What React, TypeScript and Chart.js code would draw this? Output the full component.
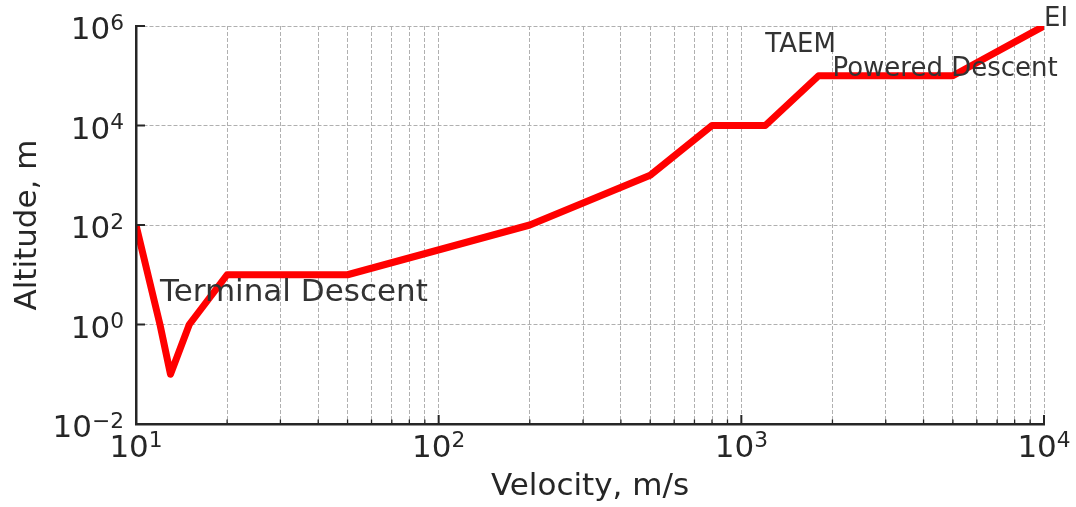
import React, { useEffect, useRef } from 'react';
import { Chart, registerables } from 'chart.js';

Chart.register(...registerables);

// ---- data ----
const velocity = [10, 12, 13, 15, 20, 50, 200, 500, 800, 1200, 1800, 5000, 10000];
const altitude = [100, 1, 0.1, 1, 10, 10, 100, 1000, 10000, 10000, 100000, 100000, 1000000];

const xTickValues = [
  10, 20, 30, 40, 50, 60, 70, 80, 90,
  100, 200, 300, 400, 500, 600, 700, 800, 900,
  1000, 2000, 3000, 4000, 5000, 6000, 7000, 8000, 9000,
  10000,
];
const xMajorValues = [10, 100, 1000, 10000];
const yTickValues = [0.01, 1, 100, 10000, 1000000];

const phaseLabels = ['Terminal Descent', 'TAEM', 'Powered Descent', 'EI'];
const phaseVelocity = [12, 1200, 2000, 10000];
const phaseAltitude = [3, 300000, 100000, 1000000];

// ---- styles ----
const FONT = '"DejaVu Sans", "Liberation Sans", sans-serif';
const phaseFontSize = [31, 26, 26, 26];
const TEXT = '#262626';
const BASE_SIZE = 31;
const EXP_SIZE = 21.7;

const expOf = (v: number) => {
  const e = Math.round(Math.log10(v));
  return e < 0 ? '\u2212' + String(-e) : String(e);
};

function drawPow(ctx: CanvasRenderingContext2D, v: number, anchorX: number, baseline: number, align: 'center' | 'right') {
  const exp = expOf(v);
  ctx.font = `${BASE_SIZE}px ${FONT}`;
  const wBase = ctx.measureText('10').width;
  ctx.font = `${EXP_SIZE}px ${FONT}`;
  const wExp = ctx.measureText(exp).width;
  const total = wBase + wExp;
  const x0 = align === 'center' ? anchorX - total / 2 : anchorX - total;
  ctx.textAlign = 'left';
  ctx.textBaseline = 'alphabetic';
  ctx.font = `${BASE_SIZE}px ${FONT}`;
  ctx.fillText('10', x0, baseline);
  ctx.font = `${EXP_SIZE}px ${FONT}`;
  ctx.fillText(exp, x0 + wBase, baseline - 9.5);
}

const decorPlugin = {
  id: 'decor',
  afterDraw(chart: any) {
    const { ctx, chartArea, scales } = chart;
    const x = scales.x;
    const y = scales.y;
    ctx.save();
    // inward tick marks
    ctx.strokeStyle = TEXT;
    xTickValues.forEach((v) => {
      const major = xMajorValues.includes(v);
      const px = x.getPixelForValue(v);
      ctx.lineWidth = major ? 2 : 1.3;
      ctx.beginPath();
      ctx.moveTo(px, chartArea.bottom);
      ctx.lineTo(px, chartArea.bottom - (major ? 9 : 4.5));
      ctx.stroke();
    });
    yTickValues.forEach((v) => {
      const py = y.getPixelForValue(v);
      ctx.lineWidth = 2;
      ctx.beginPath();
      ctx.moveTo(chartArea.left, py);
      ctx.lineTo(chartArea.left + 9, py);
      ctx.stroke();
    });
    // tick labels (10 with raised exponent)
    ctx.fillStyle = TEXT;
    xMajorValues.forEach((v) => {
      drawPow(ctx, v, x.getPixelForValue(v), chartArea.bottom + 32.7, 'center');
    });
    yTickValues.forEach((v) => {
      drawPow(ctx, v, chartArea.left - 12, y.getPixelForValue(v) + 13, 'right');
    });
    // phase annotations
    ctx.fillStyle = '#333333';
    ctx.textAlign = 'left';
    ctx.textBaseline = 'alphabetic';
    phaseLabels.forEach((t, i) => {
      ctx.font = `${phaseFontSize[i]}px ${FONT}`;
      ctx.fillText(t, x.getPixelForValue(phaseVelocity[i]), y.getPixelForValue(phaseAltitude[i]));
    });
    ctx.restore();
  },
};

export default function App() {
  const ref = useRef<HTMLCanvasElement>(null);
  useEffect(() => {
    const chart = new Chart(ref.current as HTMLCanvasElement, {
      type: 'line',
      data: {
        datasets: [
          {
            data: velocity.map((v, i) => ({ x: v, y: altitude[i] })),
            borderColor: '#ff0000',
            backgroundColor: '#ff0000',
            borderWidth: 7,
            pointRadius: 0,
            tension: 0,
            borderJoinStyle: 'round',
            borderCapStyle: 'butt',
            clip: 0,
          } as any,
        ],
      },
      options: {
        animation: false,
        responsive: true,
        maintainAspectRatio: false,
        devicePixelRatio: 1,
        layout: { padding: { left: 0, top: 26, right: 32, bottom: 0 } },
        plugins: { legend: { display: false }, tooltip: { enabled: false } },
        scales: {
          x: {
            type: 'logarithmic',
            min: 10,
            max: 10000,
            afterBuildTicks: (s: any) => {
              s.ticks = xTickValues.map((v) => ({ value: v, major: false }));
            },
            afterFit: (s: any) => {
              s.height = 83;
              s.paddingLeft = 0;
              s.paddingRight = 0;
              s.paddingTop = 0;
              s.paddingBottom = 0;
            },
            grid: { color: '#b0b0b0', lineWidth: 1, drawTicks: false },
            border: { display: true, color: TEXT, width: 2.5, dash: [4, 2], z: 1 },
            ticks: { display: false, autoSkip: false, maxRotation: 0, minRotation: 0 },
            title: {
              display: true,
              text: 'Velocity, m/s',
              color: TEXT,
              font: { family: FONT, size: 31, lineHeight: 1.2 },
              padding: { top: 0, bottom: 1 },
            },
          },
          y: {
            type: 'logarithmic',
            min: 0.01,
            max: 1000000,
            afterBuildTicks: (s: any) => {
              s.ticks = yTickValues.map((v) => ({ value: v, major: false }));
            },
            afterFit: (s: any) => {
              s.width = 136;
              s.paddingLeft = 0;
              s.paddingRight = 0;
              s.paddingTop = 0;
              s.paddingBottom = 0;
            },
            grid: { color: '#b0b0b0', lineWidth: 1, drawTicks: false },
            border: { display: true, color: TEXT, width: 2.5, dash: [4, 2], z: 1 },
            ticks: { display: false, autoSkip: false },
            title: {
              display: true,
              text: 'Altitude, m',
              color: TEXT,
              font: { family: FONT, size: 31, lineHeight: 1.2 },
              padding: { top: 9, bottom: 0 },
            },
          },
        },
      } as any,
      plugins: [decorPlugin],
    });
    return () => chart.destroy();
  }, []);
  return (
    <div style={{ position: 'absolute', left: 0, top: 0, width: 1076, height: 507, background: '#ffffff' }}>
      <canvas ref={ref} />
    </div>
  );
}
